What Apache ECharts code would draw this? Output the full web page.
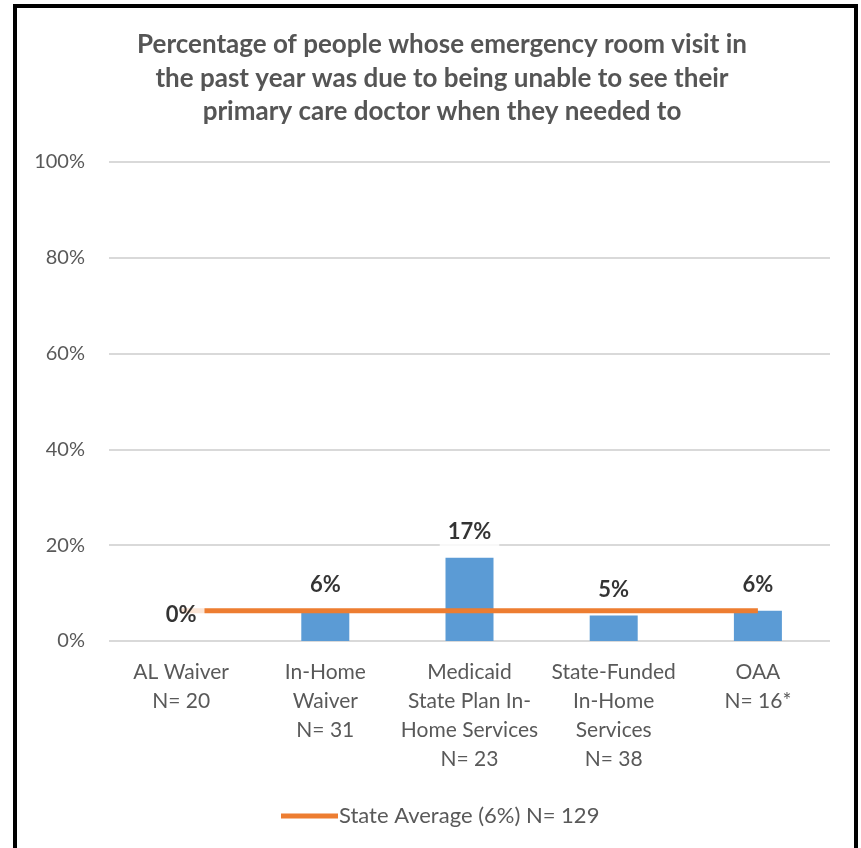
<!DOCTYPE html>
<html>
<head>
<meta charset="utf-8">
<script src="https://cdn.jsdelivr.net/npm/echarts@6/dist/echarts.min.js"></script>
<style>
  html, body { margin: 0; padding: 0; background: #fff; }
  #frame {
    position: absolute; left: 13px; top: 4px; width: 845px; height: 844px;
    border-left: 4px solid #000; border-top: 4px solid #000; border-right: 4px solid #000;
    box-sizing: border-box;
  }
  #chart { position: absolute; left: 0; top: 0; width: 861px; height: 848px; }
</style>
</head>
<body>
<div id="frame"></div>
<div id="chart"></div>
<script>
const categories = [
  'AL Waiver\nN= 20',
  'In-Home\nWaiver\nN= 31',
  'Medicaid\nState Plan In-\nHome Services\nN= 23',
  'State-Funded\nIn-Home\nServices\nN= 38',
  'OAA\nN= 16*'
];
const programValues = [0, 6.2, 17.4, 5.3, 6.3];
const stateAverage = [6.3, 6.3, 6.3, 6.3, 6.3];
const stateAverageName = 'State Average (6%) N= 129';
const yTicks = [0, 20, 40, 60, 80, 100];

const font = 'Lato, "Open Sans", sans-serif';
const chart = echarts.init(document.getElementById('chart'));

chart.setOption({
  animation: false,
  title: {
    text: 'Percentage of people whose emergency room visit in\nthe past year was due to being unable to see their\nprimary care doctor when they needed to',
    left: 437,
    textAlign: 'center',
    top: 23,
    textStyle: { fontFamily: font, fontSize: 26, fontWeight: 'bold', color: '#555', lineHeight: 33.5 }
  },
  grid: { left: 109, right: 31, top: 162, bottom: 207 },
  legend: {
    data: [stateAverageName],
    left: 276,
    top: 800,
    itemWidth: 57,
    itemHeight: 5,
    itemGap: 2,
    icon: 'rect',
    textStyle: { fontFamily: font, fontSize: 22, color: '#595959', padding: [0, 0, 0, -4] }
  },
  xAxis: {
    type: 'category',
    data: categories,
    axisLine: { show: false },
    axisTick: { show: false },
    axisLabel: { fontFamily: font, fontSize: 21, color: '#595959', lineHeight: 29, margin: 17, interval: 0 }
  },
  yAxis: {
    type: 'value',
    min: yTicks[0],
    max: yTicks[yTicks.length - 1],
    interval: 20,
    axisLabel: { fontFamily: font, fontSize: 20, color: '#595959', margin: 24, formatter: v => v + '%' },
    splitLine: { lineStyle: { color: '#d9d9d9', width: 2 } }
  },
  series: [
    {
      name: 'Programs',
      type: 'bar',
      data: programValues,
      barWidth: 48,
      itemStyle: { color: '#5b9bd5' },
      z: 2
    },
    {
      name: stateAverageName,
      type: 'line',
      data: stateAverage,
      symbol: 'none',
      lineStyle: { color: '#ed7d31', width: 5 },
      itemStyle: { color: '#ed7d31' },
      z: 3
    },
    {
      name: 'labels',
      type: 'scatter',
      data: programValues,
      symbolSize: 0,
      silent: true,
      z: 4,
      label: {
        show: true,
        position: 'top',
        distance: 11,
        formatter: p => Math.round(p.value) + '%',
        fontFamily: font,
        fontSize: 22,
        fontWeight: 'bold',
        color: '#000',
        backgroundColor: '#fff',
        padding: [4, 8, 4, 8]
      }
    }
  ]
});
</script>
</body>
</html>
